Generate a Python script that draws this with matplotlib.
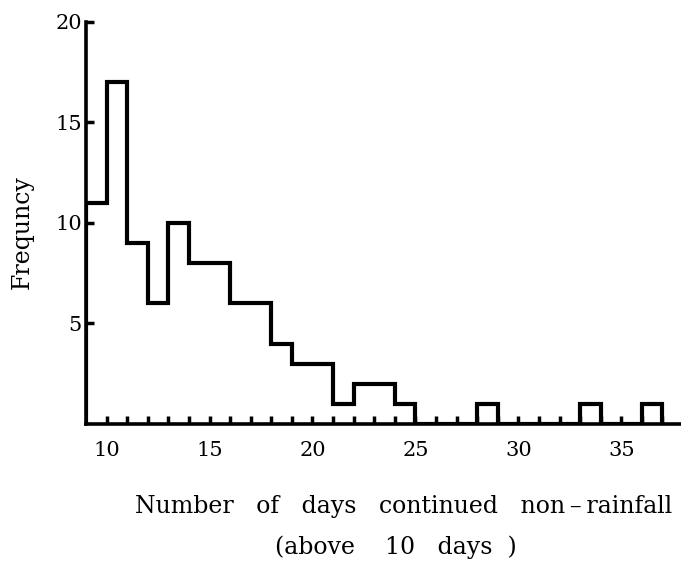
import numpy as np
import matplotlib
matplotlib.use('Agg')
import matplotlib.pyplot as plt

# days without rain (bin start, 1-day bins) and how often they happened
days = [9, 10, 11, 12, 13, 14, 15, 16, 17, 18, 19, 20, 21, 22,
        23, 24, 25, 26, 27, 28, 29, 30, 31, 32, 33, 34, 35, 36]
freq = [11, 17, 9, 6, 10, 8, 8, 6, 6, 4, 3, 3, 1, 2,
        2, 1, 0, 0, 0, 1, 0, 0, 0, 0, 1, 0, 0, 1]
xticks = [10, 15, 20, 25, 30, 35]
yticks = [5, 10, 15, 20]

plt.rcParams['font.family'] = ['DejaVu Serif']

fig = plt.figure(figsize=(6.81, 5.62), dpi=100)
ax = fig.add_axes([0.1263, 0.2456, 0.8737, 0.7153])

edges = np.append(days, days[-1] + 1)
ax.stairs(freq, edges, color='black', linewidth=3, baseline=0)

ax.set_xlim(9, 37.9)
ax.set_ylim(0, 20)

ax.spines['top'].set_visible(False)
ax.spines['right'].set_visible(False)
ax.spines['left'].set_linewidth(2.6)
ax.spines['bottom'].set_linewidth(2.6)

ax.set_xticks(xticks)
ax.set_xticks(range(10, 38), minor=True)
ax.set_yticks(yticks)
ax.tick_params(axis='x', which='both', direction='in', length=6, width=2.5,
               labelsize=15, pad=12)
ax.tick_params(axis='y', which='both', direction='in', length=6, width=2.5,
               labelsize=15, pad=3)

fig.text(0.032, 0.587, 'Frequncy', rotation=90, ha='center', va='center',
         fontsize=17)
fig.text(0.592, 0.098, 'Number   of   days   continued   non\u2009\u2013\u2009rainfall',
         ha='center', va='center', fontsize=17)
fig.text(0.582, 0.027, '(above    10   days  )', ha='center', va='center',
         fontsize=17)

fig.savefig('out.png', dpi=100)
